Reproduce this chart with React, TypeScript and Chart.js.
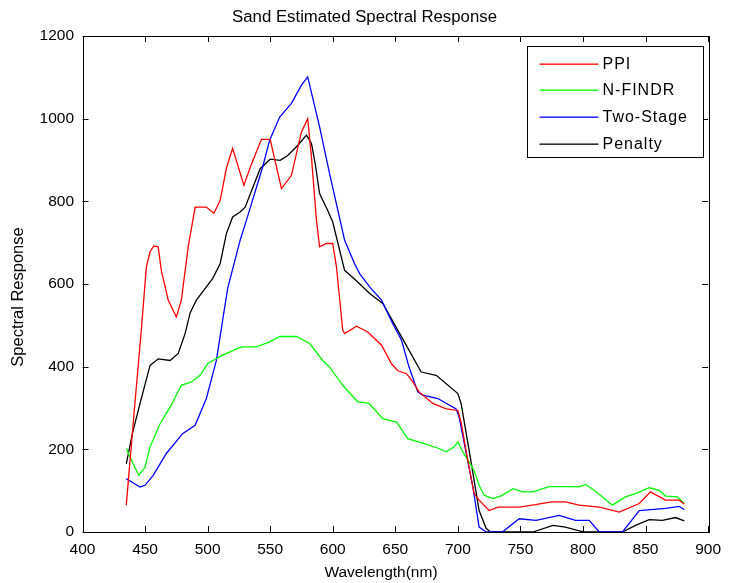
import React, { useEffect, useRef } from "react";
import { Chart, registerables } from "chart.js";

Chart.register(...registerables);

const TITLE = "Sand Estimated Spectral Response";
const X_LABEL = "Wavelength(nm)";
const Y_LABEL = "Spectral Response";

const X_TICKS = [400, 450, 500, 550, 600, 650, 700, 750, 800, 850, 900];
const Y_TICKS = [0, 200, 400, 600, 800, 1000, 1200];

const SERIES_NAMES = ["PPI", "N-FINDR", "Two-Stage", "Penalty"];
const SERIES_COLORS = ["#ff0000", "#00ff00", "#0000ff", "#000000"];

const ppiWl = [435, 441, 447, 451, 454, 457, 460.5, 463, 468.5, 475, 479, 484.5, 490, 499, 505, 510, 515, 520, 529, 535, 543, 550, 559, 567, 575, 580, 583, 587, 589.5, 595, 600, 603, 608, 609.5, 619, 628, 639, 647, 652, 659, 664, 669, 680, 690.7, 700, 702.6, 708, 713, 717, 725, 732, 749, 762, 775, 786, 797, 813, 829, 845, 854, 866, 877, 881];
const ppiVal = [65, 280, 488, 640, 678, 692, 690, 633, 561, 520, 561, 690, 786, 786, 771, 802, 880, 928, 839, 890, 950, 950, 831, 863, 968, 1000, 907, 754, 690, 698, 698, 641, 488, 480, 498, 484, 452, 407, 390, 383, 363, 339, 311, 298, 294, 266, 173, 93, 77, 52, 60, 60, 66, 73, 73, 65, 60, 48, 69, 97, 77, 77, 67];

const nfindrWl = [435, 440, 445, 450, 454, 462, 470, 479, 487, 494, 500, 506, 512, 518, 524, 528, 539, 549.6, 557.6, 571, 581.6, 592, 597.5, 608, 617.5, 620, 629, 640, 651, 660, 672, 685, 690.7, 697, 700, 704, 713, 717, 721, 728, 735, 744, 752, 760, 773, 789, 797, 802, 809, 823.6, 834, 842, 853, 861, 866, 875.5, 881];
const nfindrVal = [202, 168, 137, 157, 206, 262, 302, 355, 363, 379, 407, 418, 428, 436, 444, 448, 448, 460, 473, 473, 456, 415, 399, 355, 323, 315, 311, 274, 266, 226, 215, 202, 194, 206, 218, 194, 149, 113, 89, 81, 88, 105, 97, 97, 110, 110, 109, 115, 101, 65, 85, 93, 107, 101, 87, 85, 69];

const twoStageWl = [435, 441, 446, 450, 456.5, 467, 480, 490, 499, 507, 512, 516, 526, 531, 544, 549.6, 557.6, 567, 575, 580, 589.5, 597.5, 609.5, 617.5, 621.5, 629.5, 639, 648, 655, 661, 668, 672, 684, 698.6, 701, 712, 717, 722.6, 735.6, 749, 762.5, 781, 794, 805, 813, 831.6, 845, 866, 877, 881];
const twoStageVal = [129, 118, 109, 113, 137, 190, 238, 258, 323, 415, 512, 589, 706, 754, 883, 948, 1004, 1037, 1081, 1101, 980, 867, 706, 649, 625, 593, 561, 504, 464, 399, 339, 331, 323, 298, 278, 109, 12, 0, 0, 32, 28, 40, 28, 28, 0, 0, 52, 57, 62, 54];

const penaltyWl = [435, 440, 446, 454, 460.5, 470, 476.5, 482, 486, 491, 504, 510, 515, 520, 526, 530, 542, 550, 558, 564, 572, 579, 583, 586, 589.5, 596, 600, 609.5, 620, 629.5, 640, 655, 670.7, 682.7, 700, 702.6, 710, 717, 722.6, 726, 760, 776, 786, 797, 801, 831.6, 842, 853, 863.5, 874, 881];
const penaltyVal = [165, 240, 311, 403, 419, 415, 432, 480, 530, 561, 613, 649, 722, 762, 774, 786, 879, 902, 899, 911, 935, 960, 940, 891, 819, 778, 750, 633, 605, 577, 553, 472, 387, 379, 335, 311, 180, 52, 9, 0, 0, 16, 12, 3, 0, 0, 16, 30, 28, 35, 27];

const WAVELENGTHS = [ppiWl, nfindrWl, twoStageWl, penaltyWl];
const VALUES = [ppiVal, nfindrVal, twoStageVal, penaltyVal];

const FONT = "'Liberation Sans', Arial, Helvetica, sans-serif";

const matlabPlugin = {
  id: "matlabFrame",
  afterDatasetsDraw(chart: any) {
    const { ctx, chartArea, width } = chart;
    const { left, right, top, bottom } = chartArea;
    const xs = chart.scales.x;
    const ys = chart.scales.y;
    ctx.save();
    ctx.strokeStyle = "#000";
    ctx.lineWidth = 1;
    ctx.strokeRect(Math.round(left) + 0.5, Math.round(top) + 0.5, Math.round(right - left), Math.round(bottom - top));
    const tl = 6;
    ctx.beginPath();
    X_TICKS.forEach((t) => {
      const px = Math.round(xs.getPixelForValue(t)) + 0.5;
      ctx.moveTo(px, bottom);
      ctx.lineTo(px, bottom - tl);
      ctx.moveTo(px, top);
      ctx.lineTo(px, top + tl);
    });
    Y_TICKS.forEach((t) => {
      const py = Math.round(ys.getPixelForValue(t)) + 0.5;
      ctx.moveTo(left, py);
      ctx.lineTo(left + tl, py);
      ctx.moveTo(right, py);
      ctx.lineTo(right - tl, py);
    });
    ctx.stroke();

    // titles
    ctx.fillStyle = "#000";
    ctx.textAlign = "center";
    ctx.textBaseline = "middle";
    ctx.font = `16.8px ${FONT}`;
    ctx.fillText(TITLE, width / 2, 17.5);
    ctx.font = `15.5px ${FONT}`;
    ctx.fillText(X_LABEL, 381, 573);
    ctx.save();
    ctx.translate(18, 297);
    ctx.rotate(-Math.PI / 2);
    ctx.font = `16.5px ${FONT}`;
    ctx.fillText(Y_LABEL, 0, 0);
    ctx.restore();

    // legend
    const bw = 176;
    const bh = 111;
    const bx = Math.round(right - 5.5 - bw) + 0.5;
    const by = Math.round(top + 10) + 0.5;
    ctx.fillStyle = "#fff";
    ctx.fillRect(bx, by, bw, bh);
    ctx.strokeStyle = "#000";
    ctx.lineWidth = 1;
    ctx.strokeRect(bx, by, bw, bh);
    SERIES_NAMES.forEach((name, i) => {
      const yy = Math.round(by + 17 + i * 26.7);
      ctx.fillStyle = SERIES_COLORS[i];
      ctx.fillRect(bx + 12, yy - 0.5, 59, 1.3);
    });
    ctx.font = `16px ${FONT}`;
    ctx.textBaseline = "middle";
    ctx.textAlign = "left";
    try {
      (ctx as any).letterSpacing = "1px";
    } catch (e) {}
    ctx.fillStyle = "#000";
    SERIES_NAMES.forEach((name, i) => {
      const yy = Math.round(by + 17 + i * 26.7) + 0.5;
      ctx.fillText(name, bx + 75, yy);
    });
    ctx.restore();
  },
};

export default function App() {
  const ref = useRef<HTMLCanvasElement | null>(null);
  useEffect(() => {
    if (!ref.current) return;
    Chart.defaults.color = "#000";
    Chart.defaults.font.family = FONT;
    const chart = new Chart(ref.current, {
      type: "line",
      data: {
        datasets: SERIES_NAMES.map((name, i) => ({
          label: name,
          data: WAVELENGTHS[i].map((x, j) => ({ x, y: VALUES[i][j] })),
          borderColor: SERIES_COLORS[i],
          backgroundColor: SERIES_COLORS[i],
          borderWidth: 1.3,
          pointRadius: 0,
          tension: 0,
          fill: false,
        })),
      },
      options: {
        animation: false,
        responsive: false,
        maintainAspectRatio: false,
        layout: { padding: { left: 0, right: 20.5, top: 36, bottom: 0 } },
        plugins: {
          legend: { display: false },
          tooltip: { enabled: false },
          title: { display: false },
        },
        scales: {
          x: {
            type: "linear",
            min: 400,
            max: 900,
            afterBuildTicks: (s: any) => {
              s.ticks = X_TICKS.map((v) => ({ value: v }));
            },
            afterFit: (s: any) => {
              s.height = 51;
            },
            grid: { display: false, drawTicks: false },
            border: { display: false },
            ticks: {
              padding: 8,
              font: { size: 15.5, family: FONT },
              color: "#000",
              maxRotation: 0,
              callback: (v: any) => String(v),
            },
            title: { display: false },
          },
          y: {
            type: "linear",
            min: 0,
            max: 1200,
            afterBuildTicks: (s: any) => {
              s.ticks = Y_TICKS.map((v) => ({ value: v }));
            },
            afterFit: (s: any) => {
              s.width = 82.5;
            },
            grid: { display: false, drawTicks: false },
            border: { display: false },
            ticks: {
              padding: 8.5,
              font: { size: 15.5, family: FONT },
              color: "#000",
              callback: (v: any) => String(v),
            },
            title: { display: false },
          },
        },
      },
      plugins: [matlabPlugin],
    });
    return () => chart.destroy();
  }, []);
  return (
    <div style={{ position: "absolute", left: 0, top: 0, width: 729, height: 583, background: "#fff" }}>
      <canvas ref={ref} width={729} height={583} style={{ width: 729, height: 583, display: "block" }} />
    </div>
  );
}
